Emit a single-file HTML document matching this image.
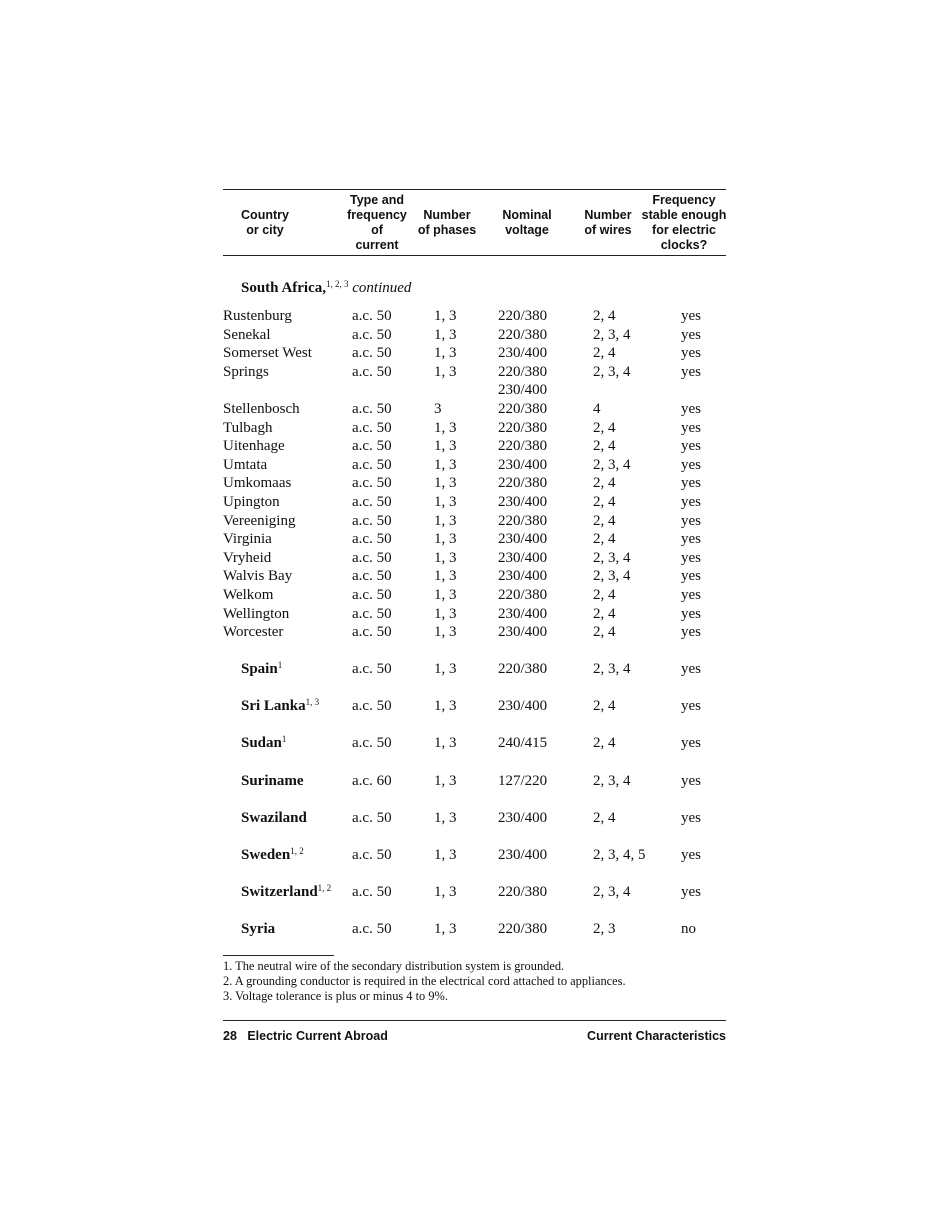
<!DOCTYPE html>
<html><head><meta charset="utf-8"><style>
body{margin:0;width:950px;height:1230px;background:#fff;position:relative;font-family:"Liberation Serif",serif;color:#111;}
.a{position:absolute;white-space:nowrap;}
.r{position:absolute;left:0;width:950px;height:18px;line-height:18px;font-size:15px;}
.r span{position:absolute;white-space:nowrap;}
.c1{left:223px}.c1b{left:241px;font-weight:bold}.c2{left:352px}.c3{left:434px}.c4{left:498px}.c5{left:593px}.c6{left:681px}
sup{font-size:9px;font-weight:normal;vertical-align:5px;line-height:0}
.h{position:absolute;font-family:"Liberation Sans",sans-serif;font-weight:bold;font-size:12.5px;line-height:15px;text-align:center;}
.line{position:absolute;left:223px;width:503px;background:#222;}
</style></head><body>
<div class="line" style="top:189px;height:1px"></div>
<div class="line" style="top:255px;height:1px"></div>
<div class="h" style="left:215px;width:100px;top:208px">Country<br>or city</div>
<div class="h" style="left:327px;width:100px;top:193px">Type and<br>frequency<br>of<br>current</div>
<div class="h" style="left:397px;width:100px;top:208px">Number<br>of phases</div>
<div class="h" style="left:477px;width:100px;top:208px">Nominal<br>voltage</div>
<div class="h" style="left:568px;width:80px;top:208px">Number<br>of wires</div>
<div class="h" style="left:634px;width:100px;top:193px">Frequency<br>stable enough<br>for electric<br>clocks?</div>
<div class="r" style="top:279px"><span class="c1b">South Africa,<sup>1, 2, 3</sup> <i style="font-weight:normal">continued</i></span></div>

<div class="r" style="top:307px"><span class="c1">Rustenburg</span><span class="c2">a.c. 50</span><span class="c3">1, 3</span><span class="c4">220/380</span><span class="c5">2, 4</span><span class="c6">yes</span></div>
<div class="r" style="top:325.6px"><span class="c1">Senekal</span><span class="c2">a.c. 50</span><span class="c3">1, 3</span><span class="c4">220/380</span><span class="c5">2, 3, 4</span><span class="c6">yes</span></div>
<div class="r" style="top:344.2px"><span class="c1">Somerset West</span><span class="c2">a.c. 50</span><span class="c3">1, 3</span><span class="c4">230/400</span><span class="c5">2, 4</span><span class="c6">yes</span></div>
<div class="r" style="top:362.8px"><span class="c1">Springs</span><span class="c2">a.c. 50</span><span class="c3">1, 3</span><span class="c4">220/380</span><span class="c5">2, 3, 4</span><span class="c6">yes</span></div>
<div class="r" style="top:381.4px"><span class="c4">230/400</span></div>
<div class="r" style="top:400px"><span class="c1">Stellenbosch</span><span class="c2">a.c. 50</span><span class="c3">3</span><span class="c4">220/380</span><span class="c5">4</span><span class="c6">yes</span></div>
<div class="r" style="top:418.6px"><span class="c1">Tulbagh</span><span class="c2">a.c. 50</span><span class="c3">1, 3</span><span class="c4">220/380</span><span class="c5">2, 4</span><span class="c6">yes</span></div>
<div class="r" style="top:437.2px"><span class="c1">Uitenhage</span><span class="c2">a.c. 50</span><span class="c3">1, 3</span><span class="c4">220/380</span><span class="c5">2, 4</span><span class="c6">yes</span></div>
<div class="r" style="top:455.8px"><span class="c1">Umtata</span><span class="c2">a.c. 50</span><span class="c3">1, 3</span><span class="c4">230/400</span><span class="c5">2, 3, 4</span><span class="c6">yes</span></div>
<div class="r" style="top:474.4px"><span class="c1">Umkomaas</span><span class="c2">a.c. 50</span><span class="c3">1, 3</span><span class="c4">220/380</span><span class="c5">2, 4</span><span class="c6">yes</span></div>
<div class="r" style="top:493px"><span class="c1">Upington</span><span class="c2">a.c. 50</span><span class="c3">1, 3</span><span class="c4">230/400</span><span class="c5">2, 4</span><span class="c6">yes</span></div>
<div class="r" style="top:511.6px"><span class="c1">Vereeniging</span><span class="c2">a.c. 50</span><span class="c3">1, 3</span><span class="c4">220/380</span><span class="c5">2, 4</span><span class="c6">yes</span></div>
<div class="r" style="top:530.2px"><span class="c1">Virginia</span><span class="c2">a.c. 50</span><span class="c3">1, 3</span><span class="c4">230/400</span><span class="c5">2, 4</span><span class="c6">yes</span></div>
<div class="r" style="top:548.8px"><span class="c1">Vryheid</span><span class="c2">a.c. 50</span><span class="c3">1, 3</span><span class="c4">230/400</span><span class="c5">2, 3, 4</span><span class="c6">yes</span></div>
<div class="r" style="top:567.4px"><span class="c1">Walvis Bay</span><span class="c2">a.c. 50</span><span class="c3">1, 3</span><span class="c4">230/400</span><span class="c5">2, 3, 4</span><span class="c6">yes</span></div>
<div class="r" style="top:586px"><span class="c1">Welkom</span><span class="c2">a.c. 50</span><span class="c3">1, 3</span><span class="c4">220/380</span><span class="c5">2, 4</span><span class="c6">yes</span></div>
<div class="r" style="top:604.6px"><span class="c1">Wellington</span><span class="c2">a.c. 50</span><span class="c3">1, 3</span><span class="c4">230/400</span><span class="c5">2, 4</span><span class="c6">yes</span></div>
<div class="r" style="top:623.2px"><span class="c1">Worcester</span><span class="c2">a.c. 50</span><span class="c3">1, 3</span><span class="c4">230/400</span><span class="c5">2, 4</span><span class="c6">yes</span></div>

<div class="r" style="top:660px"><span class="c1b">Spain<sup>1</sup></span><span class="c2">a.c. 50</span><span class="c3">1, 3</span><span class="c4">220/380</span><span class="c5">2, 3, 4</span><span class="c6">yes</span></div>
<div class="r" style="top:697.2px"><span class="c1b">Sri Lanka<sup>1, 3</sup></span><span class="c2">a.c. 50</span><span class="c3">1, 3</span><span class="c4">230/400</span><span class="c5">2, 4</span><span class="c6">yes</span></div>
<div class="r" style="top:734.4px"><span class="c1b">Sudan<sup>1</sup></span><span class="c2">a.c. 50</span><span class="c3">1, 3</span><span class="c4">240/415</span><span class="c5">2, 4</span><span class="c6">yes</span></div>
<div class="r" style="top:771.6px"><span class="c1b">Suriname</span><span class="c2">a.c. 60</span><span class="c3">1, 3</span><span class="c4">127/220</span><span class="c5">2, 3, 4</span><span class="c6">yes</span></div>
<div class="r" style="top:808.8px"><span class="c1b">Swaziland</span><span class="c2">a.c. 50</span><span class="c3">1, 3</span><span class="c4">230/400</span><span class="c5">2, 4</span><span class="c6">yes</span></div>
<div class="r" style="top:846px"><span class="c1b">Sweden<sup>1, 2</sup></span><span class="c2">a.c. 50</span><span class="c3">1, 3</span><span class="c4">230/400</span><span class="c5">2, 3, 4, 5</span><span class="c6">yes</span></div>
<div class="r" style="top:883.2px"><span class="c1b">Switzerland<sup>1, 2</sup></span><span class="c2">a.c. 50</span><span class="c3">1, 3</span><span class="c4">220/380</span><span class="c5">2, 3, 4</span><span class="c6">yes</span></div>
<div class="r" style="top:920.4px"><span class="c1b">Syria</span><span class="c2">a.c. 50</span><span class="c3">1, 3</span><span class="c4">220/380</span><span class="c5">2, 3</span><span class="c6">no</span></div>

<div class="a" style="left:223px;top:955px;width:111px;height:1px;background:#222"></div>
<div class="a" style="left:223px;top:959px;font-size:12.4px;line-height:15px">1. The neutral wire of the secondary distribution system is grounded.<br>2. A grounding conductor is required in the electrical cord attached to appliances.<br>3. Voltage tolerance is plus or minus 4 to 9%.</div>
<div class="line" style="top:1020px;height:1px"></div>
<div class="a" style="left:223px;top:1029px;font-family:'Liberation Sans',sans-serif;font-weight:bold;font-size:12.5px;line-height:15px">28&nbsp;&nbsp;&nbsp;Electric Current Abroad</div>
<div class="a" style="right:224px;top:1029px;font-family:'Liberation Sans',sans-serif;font-weight:bold;font-size:12.5px;line-height:15px">Current Characteristics</div>
</body></html>
